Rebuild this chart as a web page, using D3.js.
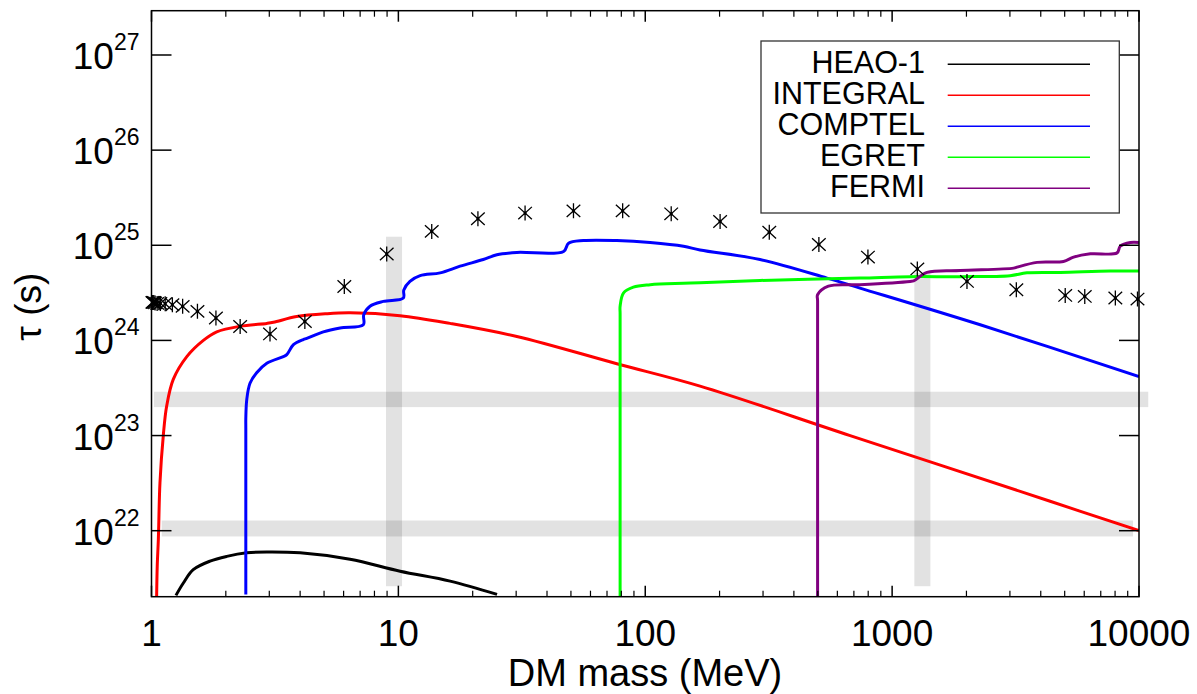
<!DOCTYPE html>
<html>
<head>
<meta charset="utf-8">
<script src="https://cdn.jsdelivr.net/npm/d3@7"></script>
<style>
  html, body { margin: 0; padding: 0; background: #fff; }
  svg { display: block; font-family: "Liberation Sans", Arial, Helvetica, sans-serif; }
</style>
</head>
<body>
<svg id="chart" width="1197" height="694"></svg>
<script>
// DM mass (MeV) and lifetime tau (s) for each instrument's constraint curve
const heaoMass = [1.256, 1.346, 1.476, 1.726, 2.018, 2.432, 2.931, 4.0, 6.37, 10.16, 16.2, 25.1];
const heaoTau  = [2.09e21, 2.82e21, 3.89e21, 4.79e21, 5.37e21, 5.85e21, 5.98e21, 5.85e21, 5.01e21, 3.75e21, 2.95e21, 2.14e21];

const integralMass = [1.049, 1.055, 1.066, 1.082, 1.117, 1.152, 1.225, 1.39, 1.622, 1.837, 2.286, 2.931, 3.119, 3.873, 5.13, 6.37, 10.16, 16.18, 30.2, 76.7, 166.7, 676, 4365, 10000];
const integralTau  = [2.0e21, 4.27e21, 8.13e21, 3.16e22, 1.02e23, 2.04e23, 3.89e23, 6.76e23, 1.0e24, 1.23e24, 1.41e24, 1.51e24, 1.55e24, 1.78e24, 1.91e24, 1.95e24, 1.82e24, 1.51e24, 1.10e24, 5.69e23, 3.31e23, 1.0e23, 2.04e22, 1.0e22];

const comptelMass = [2.41, 2.41, 2.41, 2.432, 2.506, 2.667, 2.931, 3.42, 3.532, 3.758, 4.12, 4.256, 4.966, 5.808, 7.21, 7.24, 7.674, 8.69, 10.47, 10.52, 11.14, 12.25, 14.76, 17.78, 22.08, 25.06, 30.2, 46.7, 48.9, 56.2, 76.7, 104.7, 142.9, 166.7, 291.7, 544.6, 741, 2275, 10000];
const comptelTau  = [2.14e21, 1.2e23, 1.51e23, 2.40e23, 3.55e23, 4.57e23, 5.75e23, 6.76e23, 7.08e23, 9.02e23, 1.02e24, 1.05e24, 1.23e24, 1.35e24, 1.46e24, 1.86e24, 2.29e24, 2.57e24, 2.79e24, 3.39e24, 4.17e24, 4.79e24, 5.13e24, 6.03e24, 7.08e24, 7.94e24, 8.41e24, 8.61e24, 1.05e25, 1.12e25, 1.12e25, 1.07e25, 9.77e24, 8.91e24, 7.08e24, 4.52e24, 3.55e24, 1.46e24, 4.17e23];

const egretMass = [79.1, 79.1, 79.1, 81.7, 89.5, 104.7, 142.9, 166.7, 291.7, 741, 1183, 1888, 3006, 3516, 4797, 7656, 10000];
const egretTau  = [2.0e21, 1.9e24, 2.29e24, 3.16e24, 3.63e24, 3.85e24, 3.98e24, 4.03e24, 4.27e24, 4.52e24, 4.68e24, 4.68e24, 4.79e24, 5.13e24, 5.19e24, 5.37e24, 5.37e24];

const fermiMass = [499, 499, 499, 552, 741, 1183, 1222, 1384, 1888, 3105, 3206, 3864, 4943, 5433, 6353, 8147, 8395, 9226, 10000];
const fermiTau  = [2.0e21, 2.6e24, 3.02e24, 3.72e24, 3.85e24, 4.17e24, 4.22e24, 5.19e24, 5.43e24, 5.75e24, 5.89e24, 6.61e24, 6.76e24, 7.50e24, 8.13e24, 8.32e24, 9.77e24, 1.07e25, 1.07e25];

// Combined bound shown as asterisks
const starMass = [1.0086, 1.0136, 1.022, 1.034, 1.054, 1.086, 1.136, 1.215, 1.337, 1.535, 1.824, 2.286, 3.02, 4.18, 6.04, 8.97, 13.65, 21.0, 32.6, 51.2, 81.0, 127.4, 201, 318, 505, 798, 1265, 2010, 3185, 5025, 6030, 8020, 9860];
const starTau  = [2.51e24, 2.51e24, 2.51e24, 2.48e24, 2.45e24, 2.45e24, 2.43e24, 2.37e24, 2.28e24, 2.02e24, 1.72e24, 1.40e24, 1.17e24, 1.58e24, 3.69e24, 8.09e24, 1.40e25, 1.90e25, 2.18e25, 2.30e25, 2.30e25, 2.14e25, 1.78e25, 1.37e25, 1.02e25, 7.52e24, 5.64e24, 4.17e24, 3.41e24, 2.97e24, 2.90e24, 2.79e24, 2.72e24];

// Shaded reference bands: [mass min, mass max, tau min, tau max]
const bandMassMin = [1.023, 1.10, 8.91, 1230];
const bandMassMax = [10900, 9460, 10.35, 1429];
const bandTauMin  = [1.99e23, 8.7e21, 2.61e21, 2.61e21];
const bandTauMax  = [2.89e23, 1.28e22, 1.23e25, 5.13e24];

const seriesNames  = ["HEAO-1", "INTEGRAL", "COMPTEL", "EGRET", "FERMI"];
const seriesColors = ["#000000", "#ff0000", "#0000ff", "#00ff00", "#800080"];
const seriesMass = [heaoMass, integralMass, comptelMass, egretMass, fermiMass];
const seriesTau  = [heaoTau, integralTau, comptelTau, egretTau, fermiTau];

const xTickValues = [1, 10, 100, 1000, 10000];
const xTickLabels = ["1", "10", "100", "1000", "10000"];
const yTickExponents = [22, 23, 24, 25, 26, 27];

const svg = d3.select("#chart");
const L = 151.5, R = 1139, T = 10.7, B = 596.7;

const x = d3.scaleLog().domain([1, 10000]).range([L, R]);
const y = d3.scaleLog().domain([Math.pow(10, 21.3063), Math.pow(10, 27.4656)]).range([B, T]);

svg.append("defs").append("clipPath").attr("id", "plotclip")
  .append("rect").attr("x", L).attr("y", T).attr("width", R - L).attr("height", B - T);

// bands (semi-transparent so crossings darken)
const bands = svg.append("g");
bandMassMin.forEach((m0, i) => {
  bands.append("rect")
    .attr("x", x(m0))
    .attr("width", x(bandMassMax[i]) - x(m0))
    .attr("y", y(bandTauMax[i]))
    .attr("height", y(bandTauMin[i]) - y(bandTauMax[i]))
    .attr("fill", "#000")
    .attr("fill-opacity", 0.115);
});

// curves
const curves = svg.append("g").attr("clip-path", "url(#plotclip)");
const line = d3.line().x(d => x(d[0])).y(d => y(d[1])).curve(d3.curveCatmullRom.alpha(0.5));
seriesMass.forEach((ms, i) => {
  const pts = ms.map((m, j) => [m, seriesTau[i][j]]);
  curves.append("path")
    .attr("d", line(pts))
    .attr("fill", "none")
    .attr("stroke", seriesColors[i])
    .attr("stroke-width", 3)
    .attr("stroke-linejoin", "round");
});

// asterisks
const star = "M0,-7.5V7.5M-6.8,-6.2L6.8,6.2M-6.8,6.2L6.8,-6.2";
const stars = svg.append("g");
starMass.forEach((m, i) => {
  const g = stars.append("g").attr("transform", `translate(${x(m)},${y(starTau[i])})`);
  g.append("path").attr("d", star).attr("stroke", "#000").attr("stroke-width", 1.3).attr("fill", "none");
  g.append("circle").attr("r", 1.6).attr("fill", "#000");
});

// axis frame and ticks
const axes = svg.append("g").attr("stroke", "#000").attr("stroke-width", 1.5);
axes.append("rect").attr("x", L).attr("y", T).attr("width", R - L).attr("height", B - T).attr("fill", "none");

const majorX = xTickValues;
const minorX = [];
for (let d = 1; d < 10000; d *= 10) for (let k = 2; k <= 9; k++) minorX.push(d * k);
majorX.forEach(v => {
  axes.append("line").attr("x1", x(v)).attr("x2", x(v)).attr("y1", B).attr("y2", B - 11);
  axes.append("line").attr("x1", x(v)).attr("x2", x(v)).attr("y1", T).attr("y2", T + 11);
});
minorX.forEach(v => {
  axes.append("line").attr("x1", x(v)).attr("x2", x(v)).attr("y1", B).attr("y2", B - 6).attr("stroke-width", 1.2);
  axes.append("line").attr("x1", x(v)).attr("x2", x(v)).attr("y1", T).attr("y2", T + 6).attr("stroke-width", 1.2);
});
yTickExponents.forEach(e => {
  const v = Math.pow(10, e);
  axes.append("line").attr("x1", L).attr("x2", L + 20).attr("y1", y(v)).attr("y2", y(v));
  axes.append("line").attr("x1", R).attr("x2", R - 20).attr("y1", y(v)).attr("y2", y(v));
});

// tick labels
const labels = svg.append("g").attr("fill", "#000");
xTickValues.forEach((v, i) => {
  labels.append("text").attr("x", x(v)).attr("y", 646)
    .attr("text-anchor", "middle").attr("font-size", 37).text(xTickLabels[i]);
});
yTickExponents.forEach(e => {
  const yy = y(Math.pow(10, e));
  const t = labels.append("text").attr("x", 139.5).attr("y", yy + 14)
    .attr("text-anchor", "end").attr("font-size", 37);
  t.append("tspan").text("10");
  t.append("tspan").attr("font-size", 23).attr("dy", -19).text(String(e));
});

// axis titles
labels.append("text").attr("x", 645).attr("y", 686).attr("text-anchor", "middle")
  .attr("font-size", 38).text("DM mass (MeV)");
labels.append("text").attr("transform", "translate(41,306.7) rotate(-90)")
  .attr("text-anchor", "middle").attr("font-size", 37).text("τ (s)");

// legend
const leg = svg.append("g");
leg.append("rect").attr("x", 761).attr("y", 41).attr("width", 358.3).attr("height", 172)
  .attr("fill", "#fff").attr("stroke", "#333").attr("stroke-width", 1.3);
seriesNames.forEach((n, i) => {
  const by = 72.7 + i * 31;
  leg.append("text").attr("x", 925).attr("y", by).attr("text-anchor", "end")
    .attr("font-size", 30.5).attr("fill", "#000").text(n);
  leg.append("line").attr("x1", 947.7).attr("x2", 1090).attr("y1", by - 8.5).attr("y2", by - 8.5)
    .attr("stroke", seriesColors[i]).attr("stroke-width", 1.4);
});
</script>
</body>
</html>
